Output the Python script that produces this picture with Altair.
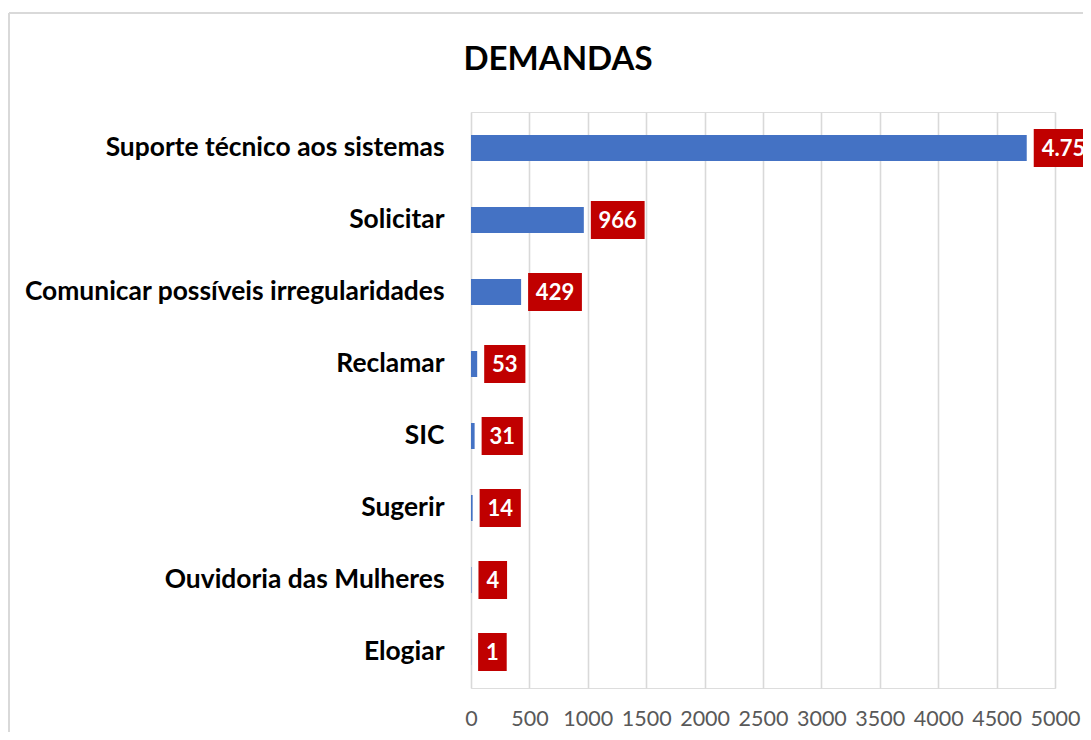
import altair as alt
import pandas as pd

categories = [
    "Suporte técnico aos sistemas",
    "Solicitar",
    "Comunicar possíveis irregularidades",
    "Reclamar",
    "SIC",
    "Sugerir",
    "Ouvidoria das Mulheres",
    "Elogiar",
]
values = [4758, 966, 429, 53, 31, 14, 4, 1]
labels = ["4.758", "966", "429", "53", "31", "14", "4", "1"]
x_ticks = [0, 500, 1000, 1500, 2000, 2500, 3000, 3500, 4000, 4500, 5000]
title_text = ["DEMANDAS"]

df = pd.DataFrame({"cat": categories, "value": values, "label": labels})

W, H = 584, 576
XMAX = 5000
PX = XMAX / W  # data units per pixel

FONT = "Lato"

y_enc = alt.Y(
    "cat:N",
    sort=categories,
    scale=alt.Scale(paddingInner=0.64, paddingOuter=0.32),
    axis=alt.Axis(
        title=None, ticks=False, domain=False, labelFont=FONT,
        labelFontSize=26.4, labelFontWeight="bold", labelColor="#000000",
        labelPadding=27, labelLimit=600,
    ),
)
x_scale = alt.Scale(domain=[0, XMAX], nice=False)

base = alt.Chart(df)

bars = base.mark_bar(color="#4472C4", size=26).encode(
    x=alt.X(
        "value:Q", scale=x_scale,
        axis=alt.Axis(
            title=None, values=x_ticks, format="d", ticks=False, domain=False,
            gridColor="#D9D9D9", gridWidth=1.6, labelFont=FONT,
            labelFontSize=21.5, labelColor="#595959", labelPadding=20,
            labelFlush=False,
        ),
    ),
    y=y_enc,
)

boxed = base.transform_calculate(
    w="16 + 12.6 * length(replace(datum.label, '.', '')) + (indexof(datum.label, '.') >= 0 ? 6 : 0)",
    x0=f"datum.value + 7 * {PX}",
    x1=f"datum.value + (7 + datum.w) * {PX}",
    xm="(datum.x0 + datum.x1) / 2",
)

boxes = boxed.mark_bar(color="#C00000", size=38).encode(
    x=alt.X("x0:Q", scale=x_scale),
    x2="x1:Q",
    y=alt.Y("cat:N", sort=categories),
)

texts = boxed.mark_text(
    color="white", font=FONT, fontSize=22, fontWeight="bold",
    align="center", baseline="middle", dy=1,
).encode(
    x=alt.X("xm:Q", scale=x_scale),
    y=alt.Y("cat:N", sort=categories),
    text="label:N",
)

title = alt.Chart(pd.DataFrame({"t": title_text})).mark_text(
    font=FONT, fontSize=33, fontWeight="bold", color="#000000",
    align="center", baseline="middle",
).encode(x=alt.value(87), y=alt.value(-52), text="t:N")

border_top = base.mark_rule(color="#D9D9D9", strokeWidth=2).encode(
    x=alt.value(-462), x2=alt.value(700), y=alt.value(-99)
)
border_left = base.mark_rule(color="#D9D9D9", strokeWidth=2).encode(
    x=alt.value(-462), y=alt.value(-99), y2=alt.value(700)
)

chart = (
    alt.layer(bars, boxes, texts, title, border_top, border_left)
    .properties(
        width=W,
        height=H,
        autosize=alt.AutoSizeParams(type="none"),
        padding={"left": 463, "top": 104, "right": 28, "bottom": 44},
    )
    .configure_view(fill="#F2F2F2", stroke=None)
    .configure(background="white")
)

chart.save("out.html", embed_options={"renderer": "svg", "actions": False})
